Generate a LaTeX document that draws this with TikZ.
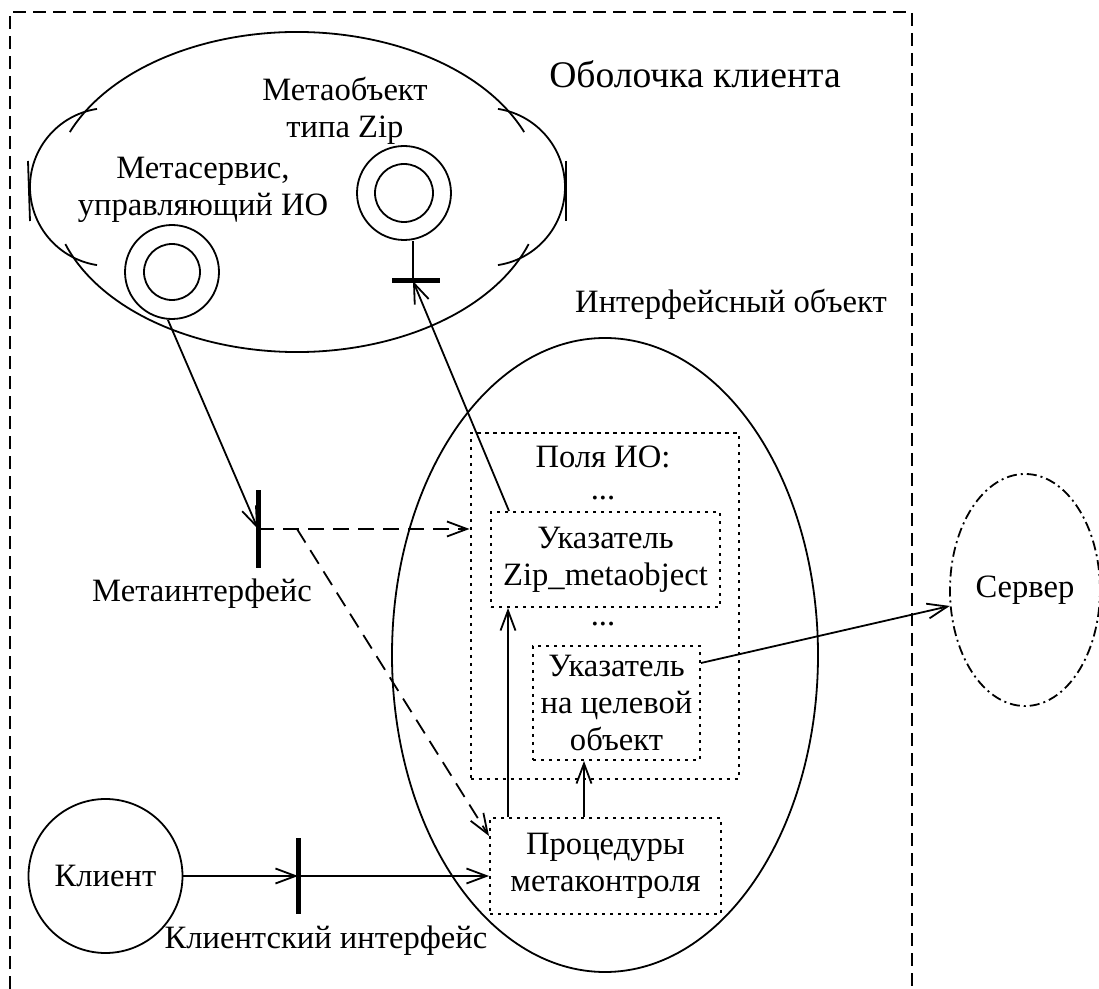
\documentclass[tikz,border=0pt]{standalone}
\usepackage{fontspec}
\setmainfont{Liberation Serif}
\usetikzlibrary{arrows.meta,shapes.geometric,calc}
\tikzset{
  ln/.style={line width=0.9pt},
  arr/.style={ln, -{Straight Barb[length=10pt,width=7.5pt]}},
  darr/.style={arr, dash pattern=on 8pt off 4.5pt},
  dbox/.style={draw, line width=1pt, dash pattern=on 1.7pt off 2.3pt, rectangle, inner sep=2pt, align=center},
  ibar/.style={fill=black, draw=none, inner sep=0pt, rectangle},
  txt/.style={inner sep=0pt, align=center},
  framebox/.style={line width=1.3pt, dash pattern=on 6.5pt off 3.5pt},
  dcirc/.style={circle, draw, ln, inner sep=0pt},
}
\begin{document}
\begin{tikzpicture}[x=0.5pt,y=0.5pt,font=\fontsize{16.3pt}{18.5pt}\selectfont]
\useasboundingbox (0,0) rectangle (1099,-989);

% outer dashed frame (open at the bottom)
\draw[framebox] (10,-989) -- (10,-12) -- (912,-12) -- (912,-989);

% client shell
\draw[ln] (297,-192) ++(22:245 and 160) arc[start angle=22, end angle=158, x radius=245, y radius=160];
\draw[ln] (297,-192) ++(199:245 and 160) arc[start angle=199, end angle=341, x radius=245, y radius=160];
\draw[ln] (109,-187) ++(98.7:79) arc[start angle=98.7, end angle=261.3, radius=79];
\draw[ln] (486,-187) ++(-81.3:79) arc[start angle=-81.3, end angle=81.3, radius=79];
\draw[ln] (28,-161) -- (30,-221);
\draw[ln] (566,-161) -- (566,-221);
\node[txt, anchor=base] (shellLbl) at (695,-88) {\fontsize{18.8pt}{21pt}\selectfont Оболочка клиента};

% metaservice
\node[dcirc, minimum size=47pt] (ms) at (172,-272) {};
\node[dcirc, minimum size=28pt] (msin) at (ms.center) {};
\node[txt] (msLbl) at (203,-190) {Метасервис,\\управляющий ИО};

% metaobject Zip
\node[dcirc, minimum size=47pt] (zip) at (404,-193) {};
\node[dcirc, minimum size=29pt] (zipin) at (zip.center) {};
\node[txt] (zipLbl) at (345,-111) {Метаобъект\\типа Zip};
\coordinate (zipbar) at (413,-281);
\node[ibar, minimum width=24pt, minimum height=2.5pt] (zb) at (416,-281) {};
\draw[ln] (zip.south -| zipbar) -- (zipbar);

% interface object
\node[ellipse, draw, ln, minimum width=213pt, minimum height=317pt, inner sep=0pt] (io) at (605,-655) {};
\node[txt, anchor=base] (ioLbl) at (731,-313) {Интерфейсный объект};

\node[dbox, minimum width=134pt, minimum height=173pt] (poly) at (604.5,-606) {};
\node[txt, anchor=base] (polyLbl) at (603,-468) {Поля ИО:};
\node[txt, anchor=base] (dots1) at (603,-500) {...};
\node[dbox, minimum width=114.5pt, minimum height=47.5pt] (zipbox) at (605.5,-559.5) {Указатель\\Zip\_metaobject};
\node[txt, anchor=base] (dots2) at (603,-626) {...};
\node[dbox, minimum width=83.5pt, minimum height=57pt] (target) at (616.5,-703) {Указатель\\на целевой\\объект};
\node[dbox, minimum width=115.5pt, minimum height=48pt] (proc) at (605.5,-866) {Процедуры\\метаконтроля};

% metainterface
\coordinate (mi) at (258,-529);
\node[ibar, minimum width=2.5pt, minimum height=39pt] (mibar) at (mi) {};
\node[txt, anchor=base] (miLbl) at (202,-602) {Метаинтерфейс};
\draw[arr] (ms.265) -- (mi);
\draw[darr] (mi) -- (mi -| poly.west);
\coordinate (split) at (297,-529);
\draw[darr] (split) -- ($(proc.north west)+(0,-19)$);

% client
\node[dcirc, minimum size=77pt] (client) at (105.5,-876) {Клиент};
\coordinate (ci) at (298,-876);
\node[ibar, minimum width=2.5pt, minimum height=38pt] (cibar) at (ci) {};
\node[txt, anchor=base] (ciLbl) at (326,-948) {Клиентский интерфейс};
\draw[arr] (client.east) -- (ci);
\draw[arr] (ci) -- (ci -| proc.west);

% internal arrows
\coordinate (pa) at ($(proc.north west)+(19,0)$);
\draw[arr] (pa) -- (pa |- zipbox.south);
\coordinate (pb) at ($(proc.north west)+(95,0)$);
\draw[arr] (pb) -- (pb |- target.south);
\draw[arr] ($(zipbox.north west)+(19,0)$) -- (zipbar);

% server
\node[ellipse, draw, ln, dash pattern=on 5pt off 2pt on 1pt off 2pt, minimum width=75pt, minimum height=116pt, inner sep=0pt] (server) at (1025,-590) {Сервер};
\draw[arr] ($(target.north east)+(0,-18)$) -- (server.192);
\end{tikzpicture}
\end{document}
